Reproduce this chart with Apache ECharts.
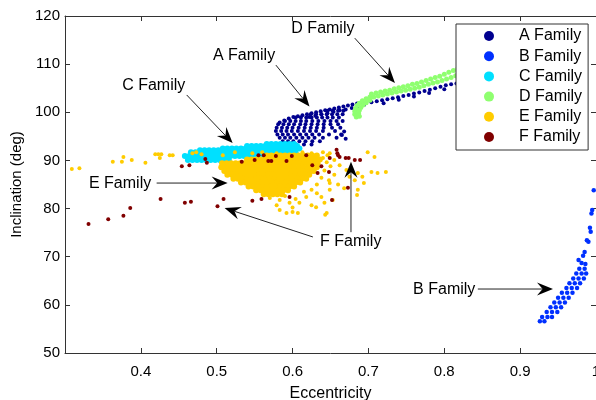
<!DOCTYPE html>
<html>
<head>
<meta charset="utf-8">
<script src="https://cdn.jsdelivr.net/npm/echarts@6/dist/echarts.min.js"></script>
<style>
html,body{margin:0;padding:0;background:#fff;overflow:hidden;}
#c{width:596px;height:400px;}
</style>
</head>
<body>
<div id="c"></div>
<script>
// ---------------- DATA (eccentricity, inclination in deg) ----------------
const familyNames = ['A Family', 'B Family', 'C Family', 'D Family', 'E Family', 'F Family'];
const xTicks = [0.4, 0.5, 0.6, 0.7, 0.8, 0.9, 1];
const yTicks = [50, 60, 70, 80, 90, 100, 110, 120];

// A family: fan-shaped cloud, rows of [inclination, [eccentricities]]
const aFamilyRows = [
  [100.3, [0.646, 0.653, 0.660, 0.667]],
  [99.6, [0.624, 0.631, 0.638, 0.645, 0.652, 0.659, 0.666]],
  [98.9, [0.604, 0.611, 0.618, 0.625, 0.632, 0.639, 0.646, 0.653, 0.661]],
  [98.2, [0.590, 0.597, 0.604, 0.611, 0.618, 0.626, 0.634, 0.642, 0.650, 0.658, 0.666]],
  [97.5, [0.581, 0.588, 0.595, 0.602, 0.610, 0.617, 0.625, 0.633, 0.641, 0.650, 0.660]],
  [96.8, [0.579, 0.586, 0.593, 0.600, 0.608, 0.616, 0.624, 0.632, 0.641, 0.652, 0.663]],
  [96.1, [0.578, 0.585, 0.592, 0.599, 0.607, 0.615, 0.623, 0.631, 0.640, 0.656]],
  [95.4, [0.580, 0.587, 0.594, 0.602, 0.610, 0.618, 0.626, 0.635, 0.648, 0.664]],
  [94.7, [0.583, 0.590, 0.597, 0.605, 0.613, 0.621, 0.629, 0.640, 0.658]],
  [94.0, [0.587, 0.594, 0.601, 0.609, 0.617, 0.626, 0.636]],
  [93.3, [0.596, 0.605, 0.615, 0.625]]
];
// A family: dense upper edge and tail
const aFamilyLine = [
  [0.583, 97.9], [0.589, 98.3], [0.595, 98.7], [0.601, 99.0], [0.607, 99.2], [0.613, 99.4],
  [0.619, 99.6], [0.625, 99.8], [0.631, 100.0], [0.637, 100.2], [0.643, 100.4], [0.649, 100.6],
  [0.655, 100.8], [0.661, 101.0], [0.667, 101.2], [0.673, 101.4], [0.679, 101.6], [0.685, 101.8],
  [0.691, 102.0], [0.697, 102.0], [0.704, 102.1], [0.711, 102.3], [0.718, 102.5], [0.725, 102.7],
  [0.732, 102.9], [0.739, 103.1], [0.746, 103.4], [0.753, 103.6], [0.760, 103.9], [0.767, 104.1],
  [0.774, 104.4], [0.781, 104.7], [0.788, 105.0], [0.795, 105.3], [0.802, 105.6], [0.809, 105.8],
  [0.816, 106.0],
  [0.622, 99.0], [0.630, 99.3], [0.638, 99.6], [0.646, 99.8], [0.654, 100.1], [0.662, 100.4],
  [0.670, 100.6], [0.678, 100.9], [0.686, 101.2], [0.694, 101.5],
  [0.720, 101.9], [0.740, 102.6], [0.760, 103.3], [0.780, 104.0], [0.800, 104.8],
  [0.665, 95.3], [0.668, 96.0], [0.670, 94.5]
];

// B family: narrow curved band near e = 1
const bFamilyRows = [
  [67.5, [0.978, 0.985]],
  [66.5, [0.974, 0.981, 0.987]],
  [65.5, [0.970, 0.977, 0.984]],
  [64.5, [0.965, 0.972, 0.979]],
  [63.5, [0.961, 0.968, 0.975]],
  [62.5, [0.955, 0.962, 0.969]],
  [61.5, [0.950, 0.957, 0.964]],
  [60.5, [0.945, 0.952, 0.959]],
  [59.5, [0.940, 0.947, 0.954]],
  [58.5, [0.935, 0.942, 0.949]],
  [57.5, [0.929, 0.936, 0.942]],
  [56.6, [0.926, 0.932]]
];
const bFamilySparse = [
  [0.997, 83.8], [0.995, 79.7], [0.994, 79.0], [0.992, 76.0], [0.993, 75.2], [0.990, 73.1],
  [0.988, 73.4], [0.985, 71.0], [0.983, 70.2], [0.981, 68.7], [0.977, 69.3], [0.986, 68.5]
];

// C family: solid elongated band
const cFamilyRows = [
  [93.4, [0.566, 0.572, 0.578, 0.584, 0.590, 0.596, 0.602]],
  [93.0, [0.540, 0.546, 0.552, 0.558, 0.564, 0.570, 0.576, 0.582, 0.588, 0.594, 0.600, 0.606]],
  [92.5, [0.508, 0.514, 0.520, 0.526, 0.532, 0.538, 0.544, 0.550, 0.556, 0.562, 0.568, 0.574, 0.580, 0.586, 0.592, 0.598, 0.604, 0.609]],
  [92.1, [0.478, 0.484, 0.490, 0.496, 0.502, 0.508, 0.514, 0.520]],
  [91.7, [0.466, 0.472, 0.478, 0.484, 0.490, 0.496, 0.502, 0.508, 0.514, 0.520, 0.526, 0.532, 0.538, 0.544, 0.550, 0.556, 0.562, 0.568, 0.574, 0.580, 0.586, 0.592, 0.598, 0.604]],
  [90.9, [0.458, 0.464, 0.470, 0.476, 0.482, 0.488, 0.494, 0.500, 0.506, 0.512, 0.518, 0.524, 0.530, 0.536, 0.542, 0.548, 0.554, 0.560, 0.566]],
  [90.1, [0.462, 0.468, 0.474, 0.480, 0.486, 0.492, 0.498, 0.504, 0.510, 0.516]]
];

// D family: hook plus rising double row
const dFamily = [
  [0.684, 99.0], [0.682, 99.6], [0.682, 100.2], [0.683, 100.8], [0.685, 101.4], [0.688, 101.9],
  [0.692, 102.4], [0.697, 102.8], [0.702, 103.2],
  [0.688, 99.2], [0.687, 99.8], [0.688, 100.4], [0.690, 101.0], [0.693, 101.5], [0.697, 102.0], [0.702, 102.5],
  [0.707, 103.2], [0.713, 103.4], [0.719, 103.6], [0.725, 103.8], [0.731, 104.0], [0.737, 104.2],
  [0.743, 104.4], [0.749, 104.6], [0.755, 104.8], [0.761, 105.0], [0.767, 105.2], [0.773, 105.5],
  [0.779, 105.8], [0.785, 106.1], [0.791, 106.3], [0.797, 106.6], [0.803, 106.9], [0.809, 107.2], [0.815, 107.6],
  [0.704, 103.8], [0.710, 104.0], [0.716, 104.2], [0.722, 104.4], [0.728, 104.6], [0.734, 104.9],
  [0.740, 105.1], [0.746, 105.3], [0.752, 105.5], [0.758, 105.8], [0.764, 106.0], [0.770, 106.3],
  [0.776, 106.6], [0.782, 106.9], [0.788, 107.2], [0.794, 107.5], [0.800, 107.9], [0.806, 108.3],
  [0.812, 108.7], [0.818, 109.1]
];

// E family: dense core rows and scattered points
const eFamilyCoreRows = [
  [91.0, [0.566, 0.572, 0.578, 0.584, 0.590, 0.596, 0.602, 0.608, 0.614, 0.620, 0.626, 0.632]],
  [90.2, [0.540, 0.546, 0.552, 0.558, 0.564, 0.570, 0.576, 0.582, 0.588, 0.594, 0.600, 0.606, 0.612, 0.618, 0.624, 0.630, 0.636]],
  [89.4, [0.507, 0.513, 0.519, 0.525, 0.531, 0.537, 0.543, 0.549, 0.555, 0.561, 0.567, 0.573, 0.579, 0.585, 0.591, 0.597, 0.603, 0.609, 0.615, 0.621, 0.627, 0.633]],
  [88.6, [0.506, 0.512, 0.518, 0.524, 0.530, 0.536, 0.542, 0.548, 0.554, 0.560, 0.566, 0.572, 0.578, 0.584, 0.590, 0.596, 0.602, 0.608, 0.614, 0.620, 0.626, 0.632]],
  [87.8, [0.510, 0.516, 0.522, 0.528, 0.534, 0.540, 0.546, 0.552, 0.558, 0.564, 0.570, 0.576, 0.582, 0.588, 0.594, 0.600, 0.606, 0.612, 0.618, 0.624, 0.628]],
  [87.0, [0.514, 0.520, 0.526, 0.532, 0.538, 0.544, 0.550, 0.556, 0.562, 0.568, 0.574, 0.580, 0.586, 0.592, 0.598, 0.604, 0.610, 0.616, 0.622]],
  [86.2, [0.522, 0.528, 0.534, 0.540, 0.546, 0.552, 0.558, 0.564, 0.570, 0.576, 0.582, 0.588, 0.594, 0.600, 0.606, 0.612, 0.618]],
  [85.4, [0.532, 0.538, 0.544, 0.550, 0.556, 0.562, 0.568, 0.574, 0.580, 0.586, 0.592, 0.598, 0.604, 0.610]],
  [84.6, [0.542, 0.548, 0.554, 0.560, 0.566, 0.572, 0.578, 0.584, 0.590, 0.596, 0.602]],
  [83.8, [0.552, 0.558, 0.564, 0.570, 0.576, 0.582, 0.588, 0.594]],
  [83.0, [0.562, 0.568, 0.574, 0.580, 0.586]]
];
const eFamilySparse = [
  [0.309, 88.2], [0.319, 88.4], [0.363, 89.7], [0.375, 89.7], [0.377, 90.7], [0.388, 90.1],
  [0.406, 89.5], [0.419, 91.3], [0.423, 91.3], [0.425, 90.5], [0.427, 91.3], [0.438, 91.1], [0.442, 91.1],
  [0.468, 91.5], [0.473, 91.7], [0.480, 91.3], [0.508, 91.1], [0.524, 91.7],
  [0.547, 91.5], [0.560, 91.7], [0.579, 91.5], [0.613, 91.7], [0.625, 91.5], [0.640, 91.7], [0.646, 91.1],
  [0.649, 91.5], [0.655, 90.1], [0.662, 89.0], [0.671, 88.0], [0.675, 86.6], [0.682, 85.9],
  [0.686, 87.4], [0.692, 86.6], [0.699, 91.7], [0.708, 90.7], [0.704, 87.6], [0.712, 87.4],
  [0.723, 87.6], [0.694, 85.3], [0.686, 83.9], [0.685, 82.8],
  [0.640, 90.5], [0.645, 89.6], [0.650, 88.8], [0.642, 87.9], [0.655, 87.0], [0.638, 86.4],
  [0.648, 85.9], [0.660, 85.0], [0.632, 85.0], [0.668, 84.2],
  [0.579, 80.7], [0.583, 79.7], [0.592, 79.1], [0.600, 79.3], [0.607, 79.1], [0.583, 81.8],
  [0.596, 81.2], [0.609, 81.2], [0.618, 82.4], [0.631, 80.3], [0.638, 82.4], [0.645, 79.1],
  [0.653, 81.8], [0.570, 82.2], [0.590, 82.6], [0.625, 80.7], [0.642, 81.2], [0.632, 83.2],
  [0.649, 85.3], [0.649, 83.9], [0.625, 83.9], [0.643, 78.7], [0.600, 80.2], [0.615, 83.5], [0.604, 82.0]
];

// F family: scattered points
const fFamily = [
  [0.331, 76.8], [0.357, 77.8], [0.377, 78.5], [0.386, 80.1], [0.426, 82.0], [0.458, 81.2],
  [0.466, 81.4], [0.501, 80.5], [0.509, 82.0], [0.547, 81.6], [0.559, 82.0], [0.596, 82.4], [0.652, 81.8],
  [0.454, 88.8], [0.464, 89.0], [0.485, 90.3], [0.487, 89.5], [0.533, 89.7], [0.550, 90.1],
  [0.555, 91.1], [0.562, 91.1], [0.568, 89.9], [0.572, 89.9], [0.578, 90.9], [0.592, 89.9],
  [0.599, 90.9], [0.618, 91.1], [0.626, 89.0], [0.633, 87.4], [0.638, 88.8], [0.648, 87.6],
  [0.649, 90.5], [0.658, 92.2], [0.659, 91.5], [0.660, 91.1], [0.662, 90.7], [0.670, 90.5],
  [0.674, 90.5], [0.682, 90.1], [0.689, 90.1], [0.673, 84.3]
];

// Annotations (text centre and arrows, in data units)
const annotationLabels = [
  { text: 'D Family', at: [0.640, 117.3] },
  { text: 'A Family', at: [0.536, 111.8] },
  { text: 'C Family', at: [0.417, 105.6] },
  { text: 'E Family', at: [0.3726, 85.25] },
  { text: 'F Family', at: [0.6767, 73.05] },
  { text: 'B Family', at: [0.7999, 63.15] }
];
const annotationArrows = [
  { from: [0.682, 115.4], to: [0.735, 106.1] },
  { from: [0.578, 109.8], to: [0.6223, 101.2] },
  { from: [0.4604, 103.6], to: [0.521, 93.6] },
  { from: [0.4208, 85.3], to: [0.5144, 85.3] },
  { from: [0.6268, 74.1], to: [0.5104, 80.1] },
  { from: [0.677, 75.1], to: [0.677, 89.7] },
  { from: [0.8442, 63.29], to: [0.9433, 63.29] }
];

// ---------------- CHART ----------------
const rowsToPoints = rows => rows.flatMap(([inc, es]) => es.map(e => [e, inc]));
const colors = {
  'A Family': '#00008f', 'B Family': '#0030ff', 'C Family': '#00e0ff',
  'D Family': '#8fff70', 'E Family': '#ffcc00', 'F Family': '#800000'
};
const FONT = '"Liberation Sans", Arial, Helvetica, sans-serif';

function scatter(name, data, size) {
  return {
    type: 'scatter', name, data, symbol: 'circle', symbolSize: size,
    itemStyle: { color: colors[name], opacity: 1 },
    emphasis: { disabled: true }, silent: true, animation: false
  };
}

const chart = echarts.init(document.getElementById('c'), null, { renderer: 'canvas' });
const axisLineStyle = { color: '#333', width: 1 };
const option = {
  animation: false,
  backgroundColor: '#fff',
  textStyle: { fontFamily: FONT },
  grid: { left: 65, right: 0, top: 16, bottom: 47, containLabel: false, outerBoundsMode: 'none' },
  xAxis: [{
    type: 'value', min: 0.3, max: 1.0, interval: 0.1,
    name: 'Eccentricity', nameLocation: 'middle', nameGap: 33,
    nameTextStyle: { fontSize: 16, color: '#000', fontFamily: FONT },
    axisLine: { show: true, lineStyle: axisLineStyle },
    axisTick: { show: true, inside: true, length: 5, lineStyle: axisLineStyle },
    axisLabel: {
      show: true, margin: 11, fontSize: 15, color: '#000', fontFamily: FONT,
      showMinLabel: false, hideOverlap: false,
      formatter: v => (xTicks.some(t => Math.abs(t - v) < 1e-9) ? String(Math.round(v * 10) / 10) : '')
    },
    splitLine: { show: false }
  }, {
    type: 'value', position: 'top', min: 0.3, max: 1.0, interval: 0.1,
    axisLine: { show: true, lineStyle: axisLineStyle },
    axisTick: { show: true, inside: true, length: 5, lineStyle: axisLineStyle },
    axisLabel: { show: false }, splitLine: { show: false }
  }],
  yAxis: [{
    type: 'value', min: 50, max: 120, interval: 10,
    name: 'Inclination (deg)', nameLocation: 'middle', nameGap: 37,
    nameTextStyle: { fontSize: 15, color: '#000', fontFamily: FONT },
    axisLine: { show: true, lineStyle: axisLineStyle },
    axisTick: { show: true, inside: true, length: 5, lineStyle: axisLineStyle },
    axisLabel: {
      show: true, margin: 5, fontSize: 15, color: '#000', fontFamily: FONT,
      formatter: v => (yTicks.includes(v) ? String(v) : '')
    },
    splitLine: { show: false }
  }, {
    type: 'value', position: 'right', min: 50, max: 120, interval: 10,
    axisLine: { show: true, lineStyle: axisLineStyle },
    axisTick: { show: true, inside: true, length: 5, lineStyle: axisLineStyle },
    axisLabel: { show: false }, splitLine: { show: false }
  }],
  legend: {
    data: familyNames.map(n => ({ name: n, icon: 'circle' })),
    orient: 'vertical', left: 456, top: 24,
    padding: [4, 6, 5, 28],
    itemWidth: 10, itemHeight: 10, itemGap: 4.2,
    backgroundColor: '#fff', borderColor: '#333', borderWidth: 1, borderRadius: 0,
    textStyle: { fontSize: 16, lineHeight: 16, color: '#000', fontFamily: FONT, padding: [0, 0, 0, 20] },
    selectedMode: false, z: 10
  },
  series: [
    scatter('A Family', rowsToPoints(aFamilyRows).concat(aFamilyLine), 4),
    scatter('B Family', rowsToPoints(bFamilyRows).concat(bFamilySparse), 4.5),
    scatter('C Family', rowsToPoints(cFamilyRows), 6),
    scatter('D Family', dFamily, 5),
    scatter('E Family', rowsToPoints(eFamilyCoreRows), 6),
    scatter('E Family', eFamilySparse, 4),
    scatter('F Family', fFamily, 4)
  ]
};
chart.setOption(option);

// annotations drawn on top
const toPx = p => chart.convertToPixel({ gridIndex: 0 }, p);
const graphics = [];
annotationLabels.forEach(a => {
  const p = toPx(a.at);
  graphics.push({
    type: 'text', z: 100, silent: true,
    style: { text: a.text, x: p[0], y: p[1], align: 'center', verticalAlign: 'middle',
             font: '16px ' + FONT, fill: '#000' }
  });
});
annotationArrows.forEach(a => {
  const p0 = toPx(a.from), p1 = toPx(a.to);
  const dx = p1[0] - p0[0], dy = p1[1] - p0[1];
  const len = Math.hypot(dx, dy);
  const ux = dx / len, uy = dy / len, nx = -uy, ny = ux;
  const L = 16, W = 6.5;
  const back = [p1[0] - ux * L, p1[1] - uy * L];
  const notch = [p1[0] - ux * L * 0.65, p1[1] - uy * L * 0.65];
  graphics.push({
    type: 'line', z: 100, silent: true,
    shape: { x1: p0[0], y1: p0[1], x2: notch[0], y2: notch[1] },
    style: { stroke: '#222', lineWidth: 1 }
  });
  graphics.push({
    type: 'polygon', z: 101, silent: true,
    shape: { points: [p1, [back[0] + nx * W, back[1] + ny * W], notch, [back[0] - nx * W, back[1] - ny * W]] },
    style: { fill: '#000' }
  });
});
chart.setOption({ graphic: graphics });
</script>
</body>
</html>
